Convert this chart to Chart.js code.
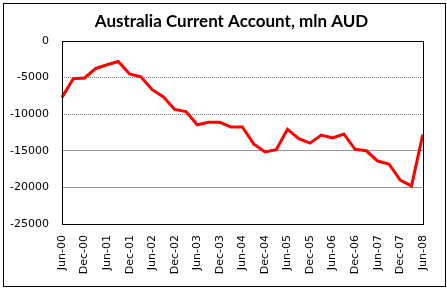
<!DOCTYPE html>
<html>
<head>
<meta charset="utf-8">
<script src="https://cdn.jsdelivr.net/npm/chart.js@4"></script>
<style>
html,body{margin:0;padding:0;background:#fff;}
#wrap{width:447px;height:288px;position:relative;}
</style>
</head>
<body>
<div id="wrap"><canvas id="c" width="447" height="288"></canvas></div>
<script>
const titleText = "Australia Current Account, mln AUD";
const quarters = ["Jun-00","Sep-00","Dec-00","Mar-01","Jun-01","Sep-01","Dec-01","Mar-02","Jun-02","Sep-02","Dec-02","Mar-03","Jun-03","Sep-03","Dec-03","Mar-04","Jun-04","Sep-04","Dec-04","Mar-05","Jun-05","Sep-05","Dec-05","Mar-06","Jun-06","Sep-06","Dec-06","Mar-07","Jun-07","Sep-07","Dec-07","Mar-08","Jun-08"];
const currentAccount = [-7700,-5150,-5050,-3750,-3250,-2800,-4500,-4900,-6650,-7650,-9350,-9650,-11450,-11100,-11100,-11750,-11750,-14050,-15150,-14850,-12050,-13350,-13950,-12850,-13250,-12700,-14800,-15000,-16400,-16800,-19000,-19800,-12800];
const yMin = -25000, yMax = 0, yStep = 5000;
const dottedGridValues = [-5000,-10000];

const framePlugin = {
  id: 'frame',
  afterDraw(chart) {
    const ctx = chart.ctx, a = chart.chartArea;
    ctx.save();
    ctx.strokeStyle = '#000';
    ctx.lineWidth = 1;
    ctx.strokeRect(Math.round(a.left) + 0.5, Math.round(a.top) + 0.5, Math.round(a.right - a.left), Math.round(a.bottom - a.top));
    ctx.strokeRect(3.5, 3.5, 442, 283);
    ctx.fillStyle = '#000';
    ctx.font = 'bold 17px Lato, "Open Sans", sans-serif';
    ctx.textAlign = 'center';
    ctx.textBaseline = 'middle';
    ctx.fillText(titleText, 231.5, 22);
    ctx.restore();
  }
};

new Chart(document.getElementById('c'), {
  type: 'line',
  data: {
    labels: quarters,
    datasets: [{
      data: currentAccount,
      borderColor: '#ff0000',
      borderWidth: 3,
      pointRadius: 0,
      tension: 0,
      fill: false
    }]
  },
  options: {
    responsive: false,
    animation: false,
    events: [],
    layout: { padding: { left: 0, right: 16, top: 41, bottom: 0 } },
    plugins: { legend: { display: false }, title: { display: false }, tooltip: { enabled: false } },
    scales: {
      x: {
        offset: false,
        grid: { display: false, drawTicks: false },
        border: { display: false },
        afterFit(scale) { scale.height = 64; },
        ticks: {
          autoSkip: false,
          minRotation: 90,
          maxRotation: 90,
          padding: 11,
          color: '#000',
          font: { family: '"DejaVu Sans", sans-serif', size: 11 },
          callback(v, i) { return i % 2 === 0 ? quarters[i] : ''; }
        }
      },
      y: {
        min: yMin,
        max: yMax,
        afterFit(scale) { scale.width = 62; },
        grid: {
          drawTicks: false,
          lineWidth: 1,
          color(ctx) { return dottedGridValues.includes(ctx.tick && ctx.tick.value) ? '#808080' : '#999999'; }
        },
        border: {
          display: false,
          dash(ctx) { return dottedGridValues.includes(ctx.tick && ctx.tick.value) ? [1, 1] : []; }
        },
        ticks: {
          stepSize: yStep,
          padding: 13,
          color: '#000',
          font: { family: '"DejaVu Sans", sans-serif', size: 11 },
          callback(v) { return String(v); }
        }
      }
    }
  },
  plugins: [framePlugin]
});
</script>
</body>
</html>
